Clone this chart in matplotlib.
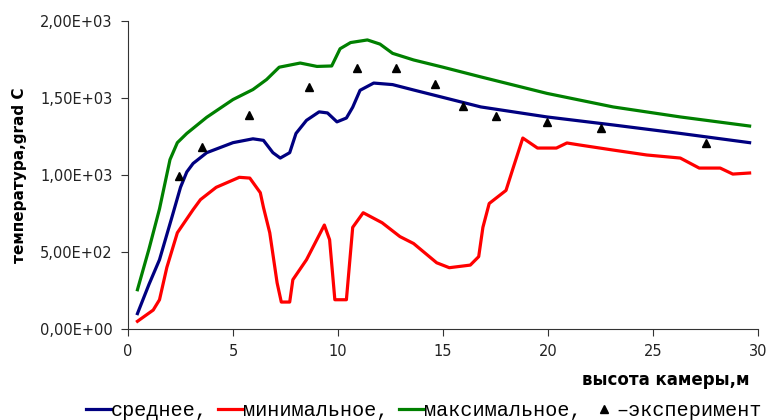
import matplotlib
matplotlib.use("Agg")
import matplotlib.pyplot as plt
from matplotlib.ticker import FuncFormatter

# данные
green_x = [0.45, 1.0, 1.5, 2.0, 2.35, 2.8, 3.75, 5.0, 5.95, 6.6, 7.2, 8.2, 9.0, 9.7, 10.1, 10.6,
           11.4, 12.0, 12.6, 13.6, 15.0, 16.8, 19.95, 23.1, 26.3, 29.6]
green_y = [255, 520, 780, 1100, 1210, 1270, 1375, 1490, 1555, 1620, 1700, 1727, 1705, 1708, 1820, 1860,
           1877, 1850, 1790, 1747, 1700, 1637, 1530, 1442, 1377, 1318]

blue_x = [0.45, 1.0, 1.5, 2.1, 2.5, 2.8, 3.1, 3.75, 5.0, 5.95, 6.45, 6.9, 7.25, 7.7, 8.0, 8.5, 9.1, 9.5,
          9.95, 10.4, 10.7, 11.05, 11.7, 12.6, 13.6, 16.8, 19.95, 23.1, 26.3, 29.6]
blue_y = [100, 290, 450, 730, 920, 1020, 1075, 1145, 1210, 1235, 1225, 1145, 1110, 1145, 1270, 1355, 1410, 1403,
          1345, 1370, 1440, 1550, 1597, 1587, 1552, 1442, 1377, 1325, 1270, 1210]

red_x = [0.45, 1.2, 1.5, 1.85, 2.35, 3.1, 3.45, 4.2, 5.3, 5.8, 6.3, 6.45, 6.75, 7.1, 7.3, 7.7, 7.85,
         8.5, 9.35, 9.6, 9.85, 10.4, 10.7, 11.2, 12.1, 12.95, 13.6, 14.7, 15.3, 16.3, 16.7, 16.9,
         17.2, 18.0, 18.35, 18.8, 19.5, 20.4, 20.9, 21.5, 23.1, 24.7, 26.3, 27.2, 28.2, 28.8, 29.6]
red_y = [50, 123, 190, 400, 625, 775, 840, 920, 985, 980, 885, 790, 625, 300, 175, 175, 320,
         450, 675, 580, 190, 190, 660, 755, 690, 600, 555, 430, 398, 415, 470, 660,
         815, 900, 1050, 1240, 1175, 1175, 1208, 1195, 1162, 1130, 1110, 1045, 1045, 1006, 1013]

exp_x = [2.45, 3.5, 5.75, 8.6, 10.9, 12.75, 14.6, 15.95, 17.5, 19.95, 22.5, 27.5]
exp_y = [995, 1180, 1390, 1570, 1695, 1695, 1590, 1450, 1385, 1345, 1305, 1210]

labels = ["среднее,", "минимальное,", "максимальное,", "–эксперимент"]

fig = plt.figure(figsize=(7.68, 4.2), dpi=100)
ax = fig.add_axes([128 / 768, 1 - 329 / 420, 630 / 768, 308 / 420])

l1, = ax.plot(blue_x, blue_y, color="#000080", lw=2.3)
l2, = ax.plot(red_x, red_y, color="#ff0000", lw=2.3)
l3, = ax.plot(green_x, green_y, color="#008000", lw=2.3)
l4, = ax.plot(exp_x, exp_y, ls="none", marker="^", color="black", ms=6)

ax.set_xlim(0, 30)
ax.set_ylim(0, 2000)
ax.set_xticks([0, 5, 10, 15, 20, 25, 30])
ax.set_yticks([0, 500, 1000, 1500, 2000])
ax.yaxis.set_major_formatter(FuncFormatter(lambda v, p: ("%.2E" % v).replace(".", ",")))

for s in ["top", "right"]:
    ax.spines[s].set_visible(False)
for s in ["left", "bottom"]:
    ax.spines[s].set_color("#333333")
ax.tick_params(direction="out", length=5, color="#333333", labelsize=10.5, pad=6)
for t in ax.get_xticklabels() + ax.get_yticklabels():
    t.set_fontfamily("DejaVu Sans")
    t.set_color("#222222")

fig.text(20 / 768, 1 - 175 / 420, "температура,grad C", rotation=90, ha="center", va="center",
         fontsize=11, fontweight="bold", family="DejaVu Sans")
fig.text(750 / 768, 1 - 380 / 420, "высота камеры,м", ha="right", va="center",
         fontsize=12, fontweight="bold", family="DejaVu Sans")

fig.legend([l1, l2, l3, l4], labels, loc="center", bbox_to_anchor=(424 / 768, 1 - 411 / 420),
           ncol=4, frameon=False, handlelength=1.25, handletextpad=0.0, columnspacing=0.5,
           prop={"family": "Liberation Mono", "size": 14.5}, borderpad=0, borderaxespad=0)

fig.savefig("out.png", dpi=100)
